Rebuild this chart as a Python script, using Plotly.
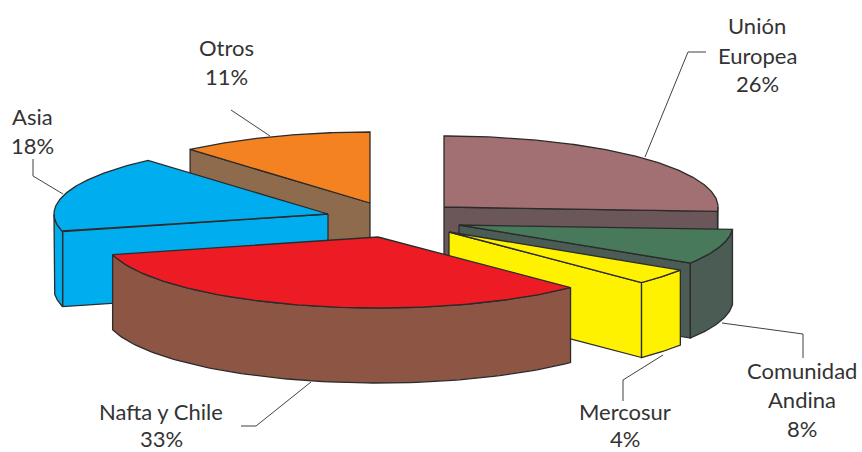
import numpy as np
import plotly.graph_objects as go

# --- data -------------------------------------------------------------
categories = ["Unión Europea", "Comunidad Andina", "Mercosur", "Nafta y Chile", "Asia", "Otros"]
shares = [26.0, 8.0, 3.6, 33.4, 17.6, 11.4]  # printed on the chart as 26, 8, 4, 33, 18, 11 %

# --- geometry / style --------------------------------------------------
RX, RY, DEPTH = 274, 71, 75
apex_x = [444, 459, 449, 378, 328, 370]
apex_y = [207, 225, 232, 237, 214, 203]
top_colors = ["#a26f73", "#47795a", "#fff200", "#ed1c24", "#00aeef", "#f58220"]
side_colors = ["#6b5759", "#4a5c54", "#fff200", "#8c5544", "#00aeef", "#8f6b4e"]
draw_order = [5, 0, 4, 1, 2, 3]
EDGE = "#2b2b2b"
TEXT = "#333333"
FONT = "Lato"
FONT_SIZE = 22

label_lines = [
    (["Unión", "Europea", "26%"], 757, [25, 55, 83]),
    (["Comunidad", "Andina", "8%"], 802, [370, 399, 428]),
    (["Mercosur", "4%"], 625, [411, 438]),
    (["Nafta y Chile", "33%"], 161, [411, 438]),
    (["Asia", "18%"], 32, [116, 145]),
    (["Otros", "11%"], 226, [47, 76]),
]
leaders = [
    ([645, 688, 706], [157, 52, 52]),
    ([722, 803, 803], [323, 334, 358]),
    ([663, 623, 623], [355, 380, 401]),
    ([311, 256, 241], [382, 426, 426]),
    ([63, 33, 33], [194, 176, 159]),
    ([270, 231], [136, 110]),
]

fig = go.Figure()


def face(xs, ys, color):
    fig.add_trace(go.Scatter(
        x=list(xs), y=list(ys), mode="lines", fill="toself", fillcolor=color,
        line=dict(color=EDGE, width=1.3), hoverinfo="skip", showlegend=False))


def point(cx, cy, t):
    return cx + RX * np.sin(t), cy - RY * np.cos(t)


# leader lines sit behind the pie
for lx, ly in leaders:
    fig.add_trace(go.Scatter(x=lx, y=ly, mode="lines", line=dict(color=EDGE, width=0.9),
                             hoverinfo="skip", showlegend=False))

bounds = np.cumsum([0] + shares) / sum(shares) * 2 * np.pi

for i in draw_order:
    t0, t1 = bounds[i], bounds[i + 1]
    cx, cy = apex_x[i], apex_y[i]
    # radial walls that face the viewer
    for t, normal in ((t0, t0 - np.pi / 2), (t1, t1 + np.pi / 2)):
        if np.cos(normal) < -1e-6:
            px, py = point(cx, cy, t)
            face([cx, px, px, cx, cx], [cy, py, py + DEPTH, cy + DEPTH, cy], side_colors[i])
    # outer rim, front part only
    a0, a1 = max(t0, np.pi / 2), min(t1, 3 * np.pi / 2)
    if a1 > a0:
        ts = np.linspace(a0, a1, 80)
        rx, ry = point(cx, cy, ts)
        face(np.r_[rx, rx[::-1], rx[0]], np.r_[ry, ry[::-1] + DEPTH, ry[0]], side_colors[i])
    # top face
    ts = np.linspace(t0, t1, 120)
    rx, ry = point(cx, cy, ts)
    face(np.r_[cx, rx, cx], np.r_[cy, ry, cy], top_colors[i])

for lines, x, ys in label_lines:
    for line, y in zip(lines, ys):
        fig.add_annotation(x=x, y=y, text=line, showarrow=False, xanchor="center", yanchor="middle",
                           font=dict(family=FONT, size=FONT_SIZE, color=TEXT))

fig.update_layout(
    width=862, height=452, margin=dict(l=0, r=0, t=0, b=0),
    paper_bgcolor="white", plot_bgcolor="white", showlegend=False,
    xaxis=dict(range=[0, 862], visible=False, fixedrange=True),
    yaxis=dict(range=[452, 0], visible=False, fixedrange=True),
)
fig.write_html("out.html", config={"displayModeBar": False},
               post_script="document.body.style.margin='0';document.body.style.overflow='hidden';")
